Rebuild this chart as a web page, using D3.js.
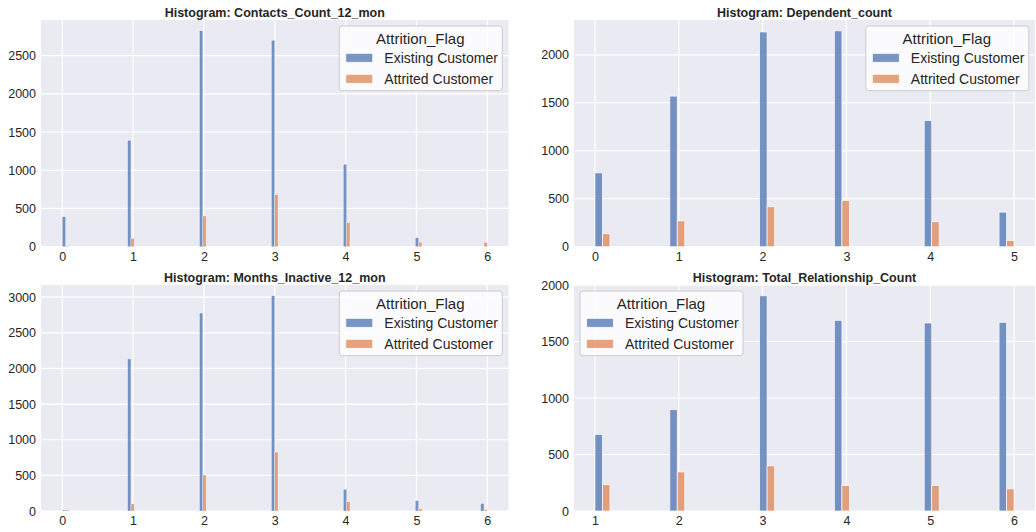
<!DOCTYPE html>
<html>
<head>
<meta charset="utf-8">
<script src="https://cdn.jsdelivr.net/npm/d3@7"></script>
<style>
  html, body { margin: 0; padding: 0; background: #ffffff; }
  svg { display: block; font-family: "Liberation Sans", Arial, sans-serif; }
</style>
</head>
<body>
<svg id="chart" width="1036" height="532"></svg>
<script>
// Customer counts per attribute value, split by Attrition_Flag
const hueNames = ["Existing Customer", "Attrited Customer"];

const contactsLevels   = [0, 1, 2, 3, 4, 5, 6];
const contactsExisting = [392, 1391, 2824, 2699, 1077, 117, 0];
const contactsAttrited = [7, 108, 403, 681, 315, 59, 54];

const dependentLevels   = [0, 1, 2, 3, 4, 5];
const dependentExisting = [769, 1569, 2238, 2250, 1314, 360];
const dependentAttrited = [135, 269, 417, 482, 260, 64];

const inactiveLevels   = [0, 1, 2, 3, 4, 5, 6];
const inactiveExisting = [14, 2133, 2777, 3020, 305, 146, 105];
const inactiveAttrited = [15, 100, 505, 826, 130, 32, 19];

const relationLevels   = [1, 2, 3, 4, 5, 6];
const relationExisting = [677, 897, 1905, 1687, 1664, 1670];
const relationAttrited = [233, 346, 400, 225, 227, 196];

// Panel setup: histogram bin count (numpy "auto" rule) and legend corner
const panels = [
  { title: "Histogram: Contacts_Count_12_mon", levels: contactsLevels,
    series: [contactsExisting, contactsAttrited], bins: 65, legend: "right",
    box: { x0: 41, x1: 508.5, y0: 20, y1: 246.7 } },
  { title: "Histogram: Dependent_count", levels: dependentLevels,
    series: [dependentExisting, dependentAttrited], bins: 28, legend: "right",
    box: { x0: 574, x1: 1035, y0: 20, y1: 246.7 } },
  { title: "Histogram: Months_Inactive_12_mon", levels: inactiveLevels,
    series: [inactiveExisting, inactiveAttrited], bins: 65, legend: "right",
    box: { x0: 41, x1: 508.5, y0: 285, y1: 511 } },
  { title: "Histogram: Total_Relationship_Count", levels: relationLevels,
    series: [relationExisting, relationAttrited], bins: 28, legend: "left",
    box: { x0: 574, x1: 1035, y0: 285, y1: 511 } }
];

const colors = ["#4C72B0", "#DD8452"];
const textColor = "#262626";
const svg = d3.select("#chart");

panels.forEach(p => {
  const b = p.box;
  const lo = d3.min(p.levels), hi = d3.max(p.levels);
  const span = hi - lo;
  const bw = span / p.bins;

  const x = d3.scaleLinear()
    .domain([lo - 0.05 * span, hi + 0.05 * span])
    .range([b.x0, b.x1]);

  const ymax = d3.max(p.series.flat()) * 1.05;
  const y = d3.scaleLinear().domain([0, ymax]).range([b.y1, b.y0]);

  const g = svg.append("g");

  // axes background
  g.append("rect")
    .attr("x", b.x0).attr("y", b.y0)
    .attr("width", b.x1 - b.x0).attr("height", b.y1 - b.y0)
    .attr("fill", "#EAEAF2");

  const yTicks = d3.range(0, ymax, 500);
  const xTicks = p.levels;

  // grid
  g.selectAll("line.gy").data(yTicks).join("line")
    .attr("x1", b.x0).attr("x2", b.x1)
    .attr("y1", d => y(d)).attr("y2", d => y(d))
    .attr("stroke", "#ffffff").attr("stroke-width", 1.2);
  g.selectAll("line.gx").data(xTicks).join("line")
    .attr("x1", d => x(d)).attr("x2", d => x(d))
    .attr("y1", b.y0).attr("y2", b.y1)
    .attr("stroke", "#ffffff").attr("stroke-width", 1.2);

  // dodged histogram bars: each bin split between the two hues
  const bars = [];
  p.series.forEach((vals, h) => {
    p.levels.forEach((lv, i) => {
      const k = Math.min(p.bins - 1, Math.floor((lv - lo) / bw + 1e-9));
      const left = lo + k * bw;
      bars.push({ h, x0: left + h * bw / 2, x1: left + (h + 1) * bw / 2, v: vals[i] });
    });
  });
  const edgeW = p.bins > 40 ? 0.4 : 0.9;
  g.selectAll("rect.bar").data(bars.filter(d => d.v > 0)).join("rect")
    .attr("x", d => x(d.x0))
    .attr("width", d => x(d.x1) - x(d.x0))
    .attr("y", d => y(d.v))
    .attr("height", d => y(0) - y(d.v))
    .attr("fill", d => colors[d.h])
    .attr("fill-opacity", 0.75)
    .attr("stroke", "#ffffff")
    .attr("stroke-opacity", 0.75)
    .attr("stroke-width", edgeW);

  // y tick labels
  const yAxis = d3.axisLeft(y).tickValues(yTicks).tickFormat(d3.format("d"))
    .tickSize(0).tickPadding(5);
  const ya = g.append("g").attr("transform", `translate(${b.x0},0)`).call(yAxis);
  ya.select(".domain").remove();
  ya.selectAll("text").attr("fill", textColor).attr("font-size", 12.5)
    .attr("font-family", "Liberation Sans, Arial, sans-serif");

  // x tick labels
  const xAxis = d3.axisBottom(x).tickValues(xTicks).tickFormat(d3.format("d"))
    .tickSize(0).tickPadding(5);
  const xa = g.append("g").attr("transform", `translate(0,${b.y1})`).call(xAxis);
  xa.select(".domain").remove();
  xa.selectAll("text").attr("fill", textColor).attr("font-size", 12.5)
    .attr("font-family", "Liberation Sans, Arial, sans-serif");

  // title
  g.append("text")
    .attr("x", (b.x0 + b.x1) / 2).attr("y", b.y0 - 3)
    .attr("text-anchor", "middle")
    .attr("font-size", 12.5).attr("font-weight", "bold")
    .attr("fill", textColor)
    .text(p.title);

  // legend
  const lw = 163, lh = 64.7;
  const lx = p.legend === "right" ? b.x1 - 6.2 - lw : b.x0 + 6;
  const ly = b.y0 + 6;
  const lg = g.append("g").attr("transform", `translate(${lx},${ly})`);
  lg.append("rect")
    .attr("width", lw).attr("height", lh).attr("rx", 3)
    .attr("fill", "#ffffff").attr("fill-opacity", 0.8)
    .attr("stroke", "#cccccc").attr("stroke-width", 1);
  lg.append("text")
    .attr("x", lw / 2 - 0.5).attr("y", 18)
    .attr("text-anchor", "middle")
    .attr("font-size", 15).attr("fill", textColor)
    .text("Attrition_Flag");
  hueNames.forEach((name, i) => {
    lg.append("rect")
      .attr("x", 6.5).attr("y", 27.3 + i * 21)
      .attr("width", 27).attr("height", 9)
      .attr("fill", colors[i]).attr("fill-opacity", 0.75)
      .attr("stroke", "#ffffff").attr("stroke-width", 0.8);
    lg.append("text")
      .attr("x", 45).attr("y", 37.3 + i * 21)
      .attr("font-size", 14).attr("fill", textColor)
      .text(name);
  });
});
</script>
</body>
</html>
